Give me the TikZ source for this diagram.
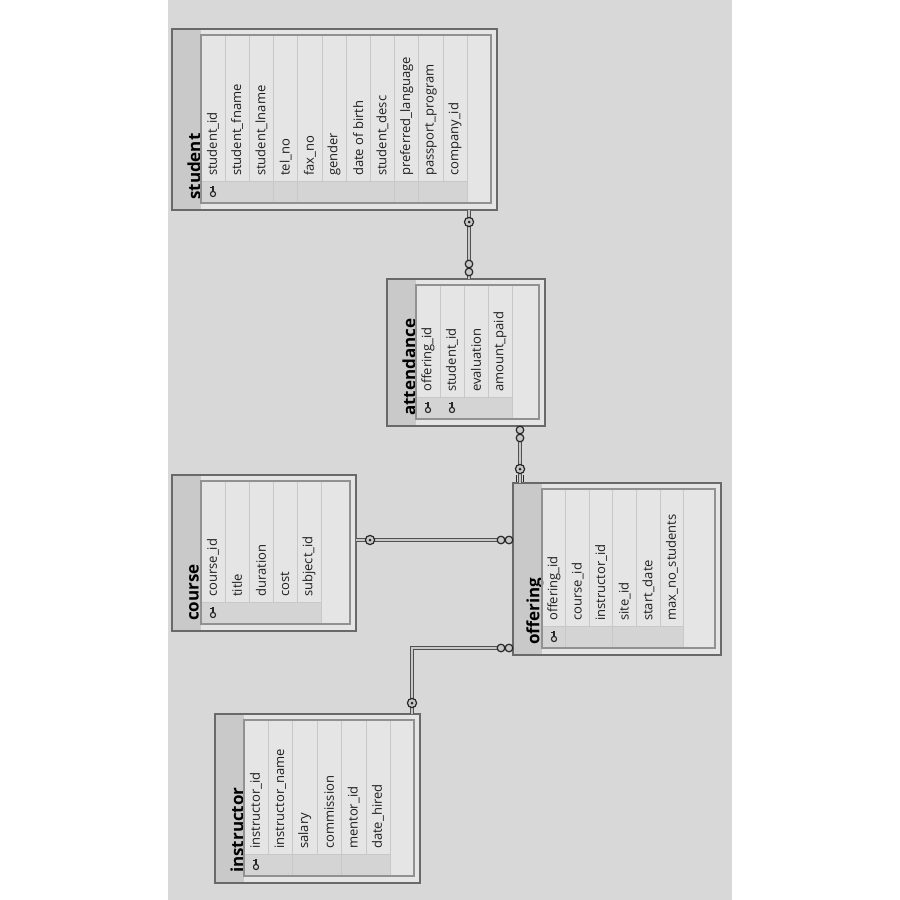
\documentclass[tikz,border=0pt]{standalone}
\usepackage{fontspec}
\setmainfont{Open Sans}
\definecolor{bggrey}{RGB}{216,216,216}
\definecolor{boxfill}{RGB}{229,229,229}
\definecolor{titlefill}{RGB}{201,201,201}
\definecolor{outerline}{RGB}{105,105,105}
\definecolor{innerline}{RGB}{145,145,145}
\definecolor{sepline}{RGB}{200,200,200}
\definecolor{keycell}{RGB}{212,212,212}
\definecolor{txt}{RGB}{30,30,30}
\definecolor{conn}{RGB}{80,80,80}
\definecolor{connin}{RGB}{200,200,200}
\tikzset{
  outerbox/.style={draw=outerline, line width=1.8pt, fill=boxfill, inner sep=0pt, outer sep=0pt},
  innerbox/.style={draw=innerline, line width=1.2pt},
  fieldtext/.style={rotate=90, anchor=west, inner sep=0pt, font=\fontsize{13}{15}\selectfont, text=txt},
  titletext/.style={rotate=90, anchor=west, inner sep=0pt, font=\fontsize{17}{19}\selectfont\bfseries, text=black},
  reldark/.style={draw=conn, line width=3.4pt},
  rellight/.style={draw=connin, line width=1.2pt},
  symline/.style={draw=black!85, line width=1.2pt, fill=connin},
  keyicon/.style={fill=black!85},
}
% #1 name, #2 L, #3 T, #4 R, #5 B, #6 title, #7 fields, #8 number of keys, #9 row spacing
\newcommand\ertable[9]{%
  \pgfmathsetmacro\Li{#2+29}%
  \pgfmathsetmacro\Ti{#3+6}%
  \pgfmathsetmacro\Ri{#4-6}%
  \pgfmathsetmacro\Bi{#5-7}%
  \pgfmathsetmacro\W{#4-#2}%
  \pgfmathsetmacro\H{#5-#3}%
  \node[outerbox, minimum width=\W pt, minimum height=\H pt] (#1) at ({(#2+#4)/2},{(#3+#5)/2}) {};
  \fill[titlefill] ({#2+1},{#3+1}) rectangle (\Li,{#5-1});
  \draw[innerbox] (\Li,\Ti) rectangle (\Ri,\Bi);
  \node[titletext] (#1-title) at ({\Li-7},{\Bi-3}) {#6};
  \foreach \f [count=\i] in {#7} {
    \fill[keycell] ({\Li+#9*(\i-1)},{\Bi-22}) rectangle ({\Li+#9*\i},\Bi);
    \draw[sepline, line width=0.8pt] ({\Li+#9*\i},\Ti) -- ({\Li+#9*\i},\Bi);
    \draw[sepline, line width=0.6pt] ({\Li+#9*(\i-1)},{\Bi-22}) -- ({\Li+#9*\i},{\Bi-22});
    \node[fieldtext] (#1-f\i) at ({\Li+12+#9*(\i-1)},{\Bi-27}) {\f};
    \ifnum\i>#8\relax\else
      \draw[black!85, line width=1.1pt] ({\Li+12+#9*(\i-1)},{\Bi-9}) circle (2.6);
      \draw[black!85, line width=1.2pt] ({\Li+12+#9*(\i-1)},{\Bi-11.6}) -- ({\Li+12+#9*(\i-1)},{\Bi-17.5})
        ({\Li+12+#9*(\i-1)},{\Bi-15.5}) -- ({\Li+9+#9*(\i-1)},{\Bi-15.5});
    \fi
  }
  \draw[innerbox] (\Li,\Ti) rectangle (\Ri,\Bi);
}
\begin{document}
\begin{tikzpicture}[x=1pt, y=-1pt]
  \useasboundingbox (0,0) rectangle (900,900);
  \fill[white] (0,0) rectangle (900,900);
  \fill[bggrey] (168,0) rectangle (732,900);

  \ertable{student}{172}{29}{497}{210}{student}{student\_id,student\_fname,student\_lname,tel\_no,fax\_no,gender,date of birth,student\_desc,preferred\_language,passport\_program,company\_id}{1}{24.2}
  \ertable{attendance}{387}{279}{545}{426}{attendance}{offering\_id,student\_id,evaluation,amount\_paid}{2}{24}
  \ertable{course}{172}{475}{356}{631}{course}{course\_id,title,duration,cost,subject\_id}{1}{24}
  \ertable{offering}{513}{483}{721}{655}{offering}{offering\_id,course\_id,instructor\_id,site\_id,start\_date,max\_no\_students}{1}{23.6}
  \ertable{instructor}{215}{714}{420}{883}{instructor}{instructor\_id,instructor\_name,salary,commission,mentor\_id,date\_hired}{1}{24.4}

  % connector lanes
  \coordinate (laneA) at (469,0);
  \coordinate (laneB) at (520,0);
  \coordinate (laneC) at (0,540);
  \coordinate (laneD) at (412,648);

  \foreach \st in {reldark, rellight} {
    \draw[\st] (laneA |- student.south) -- (laneA |- attendance.north);
    \draw[\st] (laneB |- attendance.south) -- (laneB |- offering.north);
    \draw[\st] (course.east |- laneC) -- (offering.west |- laneC);
    \draw[\st] (offering.west |- laneD) -- (laneD) -- (laneD |- instructor.north);
  }

  % one ends (key)
  \draw[symline] (469,222) circle (4.6); \fill[keyicon] (469,222) circle (1.5);
  \draw[symline] (520,469) circle (4.6); \fill[keyicon] (520,469) circle (1.5);
  \draw[black!85, line width=1.1pt] (516.5,475) -- (516.5,482) (523.5,475) -- (523.5,482);
  \draw[symline] (370,540) circle (4.6); \fill[keyicon] (370,540) circle (1.5);
  \draw[symline] (412,703) circle (4.6); \fill[keyicon] (412,703) circle (1.5);

  % many ends (infinity)
  \draw[symline] (469,264) circle (3.8) (469,272) circle (3.8);
  \draw[symline] (520,430) circle (3.8) (520,438) circle (3.8);
  \draw[symline] (501,540) circle (3.8) (509,540) circle (3.8);
  \draw[symline] (501,648) circle (3.8) (509,648) circle (3.8);
\end{tikzpicture}
\end{document}
